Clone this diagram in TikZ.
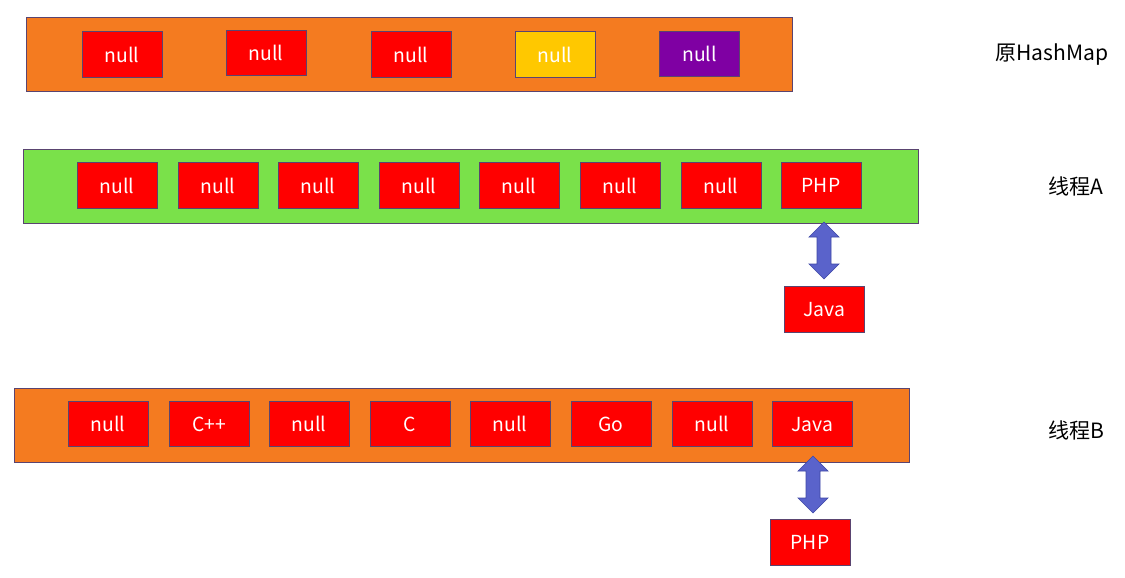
\documentclass[tikz,border=0pt]{standalone}
\usepackage{fontspec}
\setmainfont{Noto Sans CJK SC}
\usetikzlibrary{calc}
\definecolor{boxred}{HTML}{FF0000}
\definecolor{edge}{HTML}{5A4470}
\definecolor{orangebg}{HTML}{F47B20}
\definecolor{greenbg}{HTML}{7AE14A}
\definecolor{yel}{HTML}{FFC800}
\definecolor{purp}{HTML}{7F00A3}
\definecolor{arrfill}{HTML}{5A63CB}
\definecolor{arredge}{HTML}{3E47A6}
\tikzset{
  x=0.75pt, y=-0.75pt,
  cell/.style={draw=edge, line width=0.6pt, fill=boxred, minimum width=60pt, minimum height=34pt, inner sep=0pt, text=white, font=\fontsize{14.5pt}{16pt}\selectfont},
  band/.style={draw=edge, line width=0.6pt, inner sep=0pt, anchor=north west},
  lab/.style={font=\fontsize{15.8pt}{18pt}\selectfont, text=black},
  blockarrow/.style={draw=arredge, line width=0.5pt, fill=arrfill, line join=miter}
}
% #1 top coordinate, #2 bottom coordinate
\newcommand{\dblblock}[2]{%
  \path[blockarrow] (#1) -- ($(#1)+(15,15)$) -- ($(#1)+(7,15)$) -- ($(#2)+(7,-15)$) -- ($(#2)+(15,-15)$)
    -- (#2) -- ($(#2)+(-15,-15)$) -- ($(#2)+(-7,-15)$) -- ($(#1)+(-7,15)$) -- ($(#1)+(-15,15)$) -- cycle;}
\begin{document}
\begin{tikzpicture}
\useasboundingbox (0,0) rectangle (1125,578);
% row 1
\node[band, fill=orangebg, minimum width=574.5pt, minimum height=55.5pt] (r1) at (26,17) {};
\node[cell] (a1) at (122,54.5) {null};
\node[cell] (a2) at (266,53) {null};
\node[cell] (a3) at (411,54.5) {null};
\node[cell, fill=yel] (a4) at (555,54.5) {null};
\node[cell, fill=purp] (a5) at (699.5,54) {null};
\node[lab] (l1) at (1052,55) {原HashMap};
% row 2
\node[band, fill=greenbg, minimum width=671.25pt, minimum height=55.5pt] (r2) at (23,149) {};
\node[cell] (b1) at (117,185.5) {null};
\node[cell] (b2) at (218,185.5) {null};
\node[cell] (b3) at (318,185.5) {null};
\node[cell] (b4) at (419,185.5) {null};
\node[cell] (b5) at (519,185.5) {null};
\node[cell] (b6) at (620,185.5) {null};
\node[cell] (b7) at (721,185.5) {null};
\node[cell] (b8) at (821,185.5) {PHP};
\node[cell] (bj) at (824,309.5) {Java};
\node[lab] (l2) at (1076,186) {线程A};
\coordinate (ba1) at (824,222);
\coordinate (ba2) at (824,279);
\dblblock{ba1}{ba2}
% row 3
\node[band, fill=orangebg, minimum width=671.25pt, minimum height=55.5pt] (r3) at (14,388) {};
\node[cell] (c1) at (108,424) {null};
\node[cell] (c2) at (209,424) {C++};
\node[cell] (c3) at (309,424) {null};
\node[cell] (c4) at (410,424) {C};
\node[cell] (c5) at (510,424) {null};
\node[cell] (c6) at (611,424) {Go};
\node[cell] (c7) at (712,424) {null};
\node[cell, text depth=-6pt] (c8) at (812,424) {Java};
\node[cell] (cp) at (810,542.5) {PHP};
\node[lab] (l3) at (1076,430) {线程B};
\coordinate (ca1) at (813,456);
\coordinate (ca2) at (813,513);
\dblblock{ca1}{ca2}
\end{tikzpicture}
\end{document}
